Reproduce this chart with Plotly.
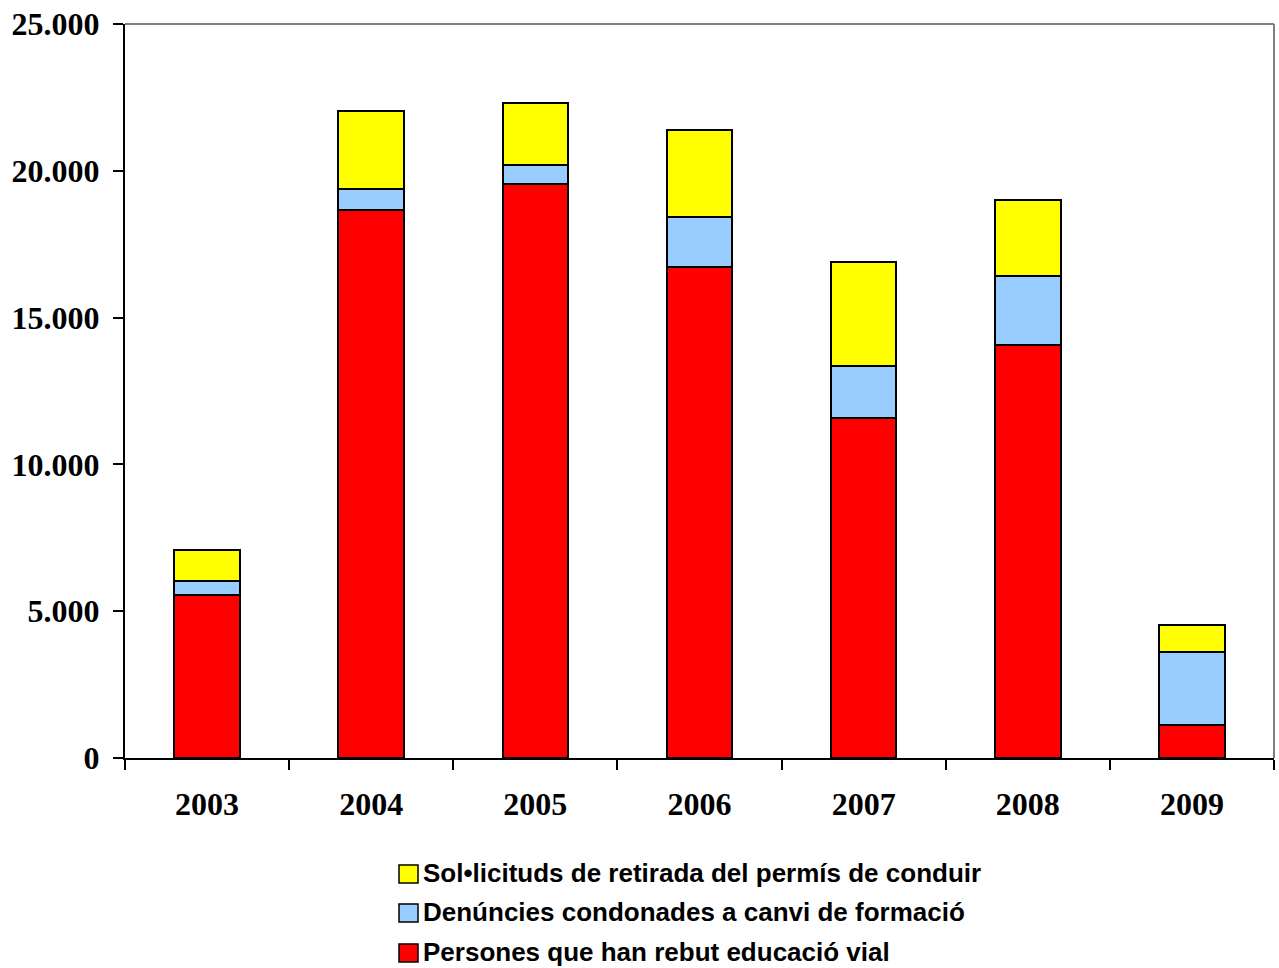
import plotly.graph_objects as go

years = ["2003", "2004", "2005", "2006", "2007", "2008", "2009"]
educacio_vial = [5540, 18670, 19550, 16740, 11580, 14080, 1110]
denuncies_condonades = [500, 715, 640, 1680, 1780, 2340, 2500]
sollicituds_retirada = [1055, 2665, 2110, 2985, 3530, 2575, 905]

series_names = [
    "Persones que han rebut educació vial",
    "Denúncies condonades a canvi de formació",
    "Sol•licituds de retirada del permís de conduir",
]
series_values = [educacio_vial, denuncies_condonades, sollicituds_retirada]
series_colors = ["#FF0000", "#99CCFF", "#FFFF00"]
y_tick_values = [0, 5000, 10000, 15000, 20000, 25000]

W, H = 1279, 968
ML, MR, MT, MB = 125, 5, 24, 210
PW, PH = W - ML - MR, H - MT - MB


def px_x(p):
    return (p - ML) / PW


def px_y(p):
    return (H - MB - p) / PH


fig = go.Figure()
for name, vals, col in zip(series_names, series_values, series_colors):
    fig.add_trace(go.Bar(
        x=years, y=vals, name=name, showlegend=False,
        marker=dict(color=col, line=dict(color="#000000", width=2)),
    ))

# manual legend (top-to-bottom: reverse of stack order)
shapes = [
    dict(type="line", xref="paper", yref="paper", x0=0, x1=1, y0=1, y1=1,
         line=dict(color="#808080", width=2)),
    dict(type="line", xref="paper", yref="paper", x0=1, x1=1, y0=0, y1=1,
         line=dict(color="#808080", width=2)),
]
annotations = []
row_centers = [874, 913, 953]
for (name, col), cy in zip(list(zip(series_names, series_colors))[::-1], row_centers):
    shapes.append(dict(
        type="rect", xref="paper", yref="paper",
        x0=px_x(399), x1=px_x(418), y0=px_y(cy - 9), y1=px_y(cy + 9),
        fillcolor=col, line=dict(color="black", width=1.5),
    ))
    annotations.append(dict(
        xref="paper", yref="paper", x=px_x(421), y=px_y(cy - 1),
        xanchor="left", yanchor="middle", showarrow=False, text=name,
        font=dict(family="Liberation Sans, Arial", size=26, color="black", weight="bold"),
    ))

fig.update_layout(
    width=W, height=H,
    barmode="stack", bargap=0.6,
    separators=",.",
    plot_bgcolor="white", paper_bgcolor="white",
    margin=dict(l=ML, r=MR, t=MT, b=MB),
    showlegend=False,
    xaxis=dict(
        type="category", tickson="boundaries", ticks="outside", ticklen=10,
        tickwidth=2, tickcolor="black", showline=True, linecolor="black", linewidth=2,
        showgrid=False, ticklabelstandoff=17,
        tickfont=dict(family="Liberation Serif, Times New Roman", size=32, color="black", weight="bold"),
    ),
    yaxis=dict(
        range=[0, 25000], tickvals=y_tick_values, tickformat=",d",
        ticks="outside", ticklen=10, tickwidth=2, tickcolor="black",
        showline=True, linecolor="black", linewidth=2, showgrid=False, zeroline=False,
        ticklabelstandoff=7,
        tickfont=dict(family="Liberation Serif, Times New Roman", size=32, color="black", weight="bold"),
    ),
    shapes=shapes,
    annotations=annotations,
)

fig.write_html("out.html", config={"displayModeBar": False},
               post_script="document.body.style.margin='0';")
